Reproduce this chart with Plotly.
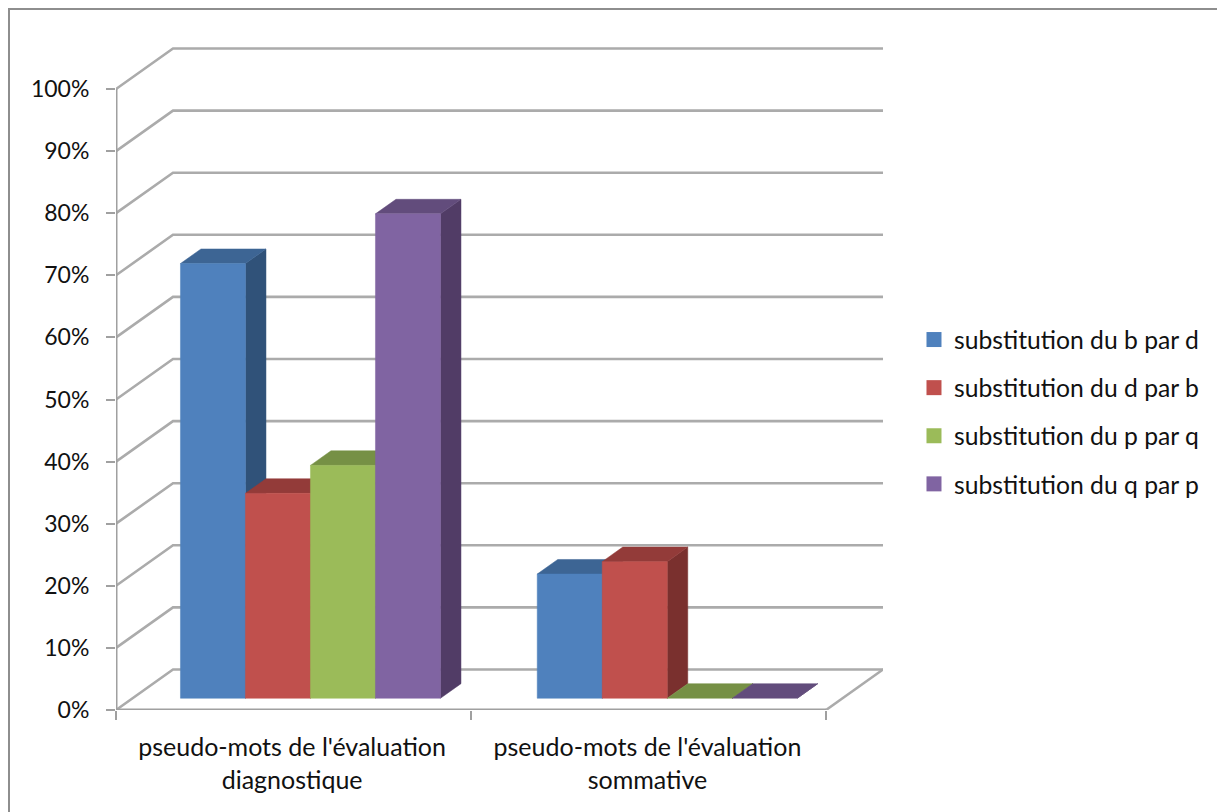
import plotly.graph_objects as go

categories = ["pseudo-mots de l'évaluation<br>diagnostique", "pseudo-mots de l'évaluation<br>sommative"]
series_names = ["substitution du b par d", "substitution du d par b",
                "substitution du p par q", "substitution du q par p"]
b_par_d = [70, 20]
d_par_b = [33, 22]
p_par_q = [37.5, 0]
q_par_p = [78, 0]
series_values = [b_par_d, d_par_b, p_par_q, q_par_p]
y_ticks = [0, 10, 20, 30, 40, 50, 60, 70, 80, 90, 100]

front_colors = ["#4F81BD", "#C0504D", "#9BBB59", "#8064A2"]
top_colors = ["#3D6594", "#933B39", "#769045", "#624C7C"]
side_colors = ["#305279", "#7A302E", "#62762F", "#513C66"]

FONT = "Lato"
GRID = "#ABABAB"
AXIS = "#A0A0A0"

PX_X = 355.0      # pixels per category
PX_Y = 6.21       # pixels per percent
DX = 57 / PX_X    # depth skew of the box, in axis units
DY = 40.5 / PX_Y
BAR_D0 = 0.29     # depth of a bar's front face (fraction of box depth)
BAR_D1 = 0.65     # depth of a bar's back face
BAR_W = 65 / PX_X
GROUP_START = [0.135, 1.14]


def proj(x, y, d):
    return x + d * DX, y + d * DY


def poly(points, color, name=None):
    xs, ys = zip(*points)
    return go.Scatter(x=list(xs) + [xs[0]], y=list(ys) + [ys[0]], mode="lines", fill="toself",
                      fillcolor=color, line=dict(color=color, width=0.5),
                      showlegend=False, hoverinfo="skip", name=name)


def seg(points, color=GRID, width=2.6):
    xs, ys = zip(*points)
    return go.Scatter(x=xs, y=ys, mode="lines", line=dict(color=color, width=width),
                      showlegend=False, hoverinfo="skip")


fig = go.Figure()
XMAX = len(categories)

# walls: gridlines
for v in y_ticks:
    fig.add_trace(seg([proj(0, v, 0), proj(0, v, 1), proj(XMAX, v, 1)]))
# floor
fig.add_trace(seg([proj(XMAX, 0, 0), proj(XMAX, 0, 1)]))
# front axes
fig.add_trace(seg([proj(0, 100, 0), proj(0, 0, 0), proj(XMAX, 0, 0)], AXIS, 3))

# bars
for g in range(len(categories)):
    for s, vals in enumerate(series_values):
        v = vals[g]
        x0 = GROUP_START[g] + s * BAR_W
        x1 = x0 + BAR_W
        fig.add_trace(poly([proj(x1, 0, BAR_D0), proj(x1, v, BAR_D0), proj(x1, v, BAR_D1), proj(x1, 0, BAR_D1)], side_colors[s]))
        fig.add_trace(poly([proj(x0, v, BAR_D0), proj(x1, v, BAR_D0), proj(x1, v, BAR_D1), proj(x0, v, BAR_D1)], top_colors[s]))
        if v > 0:
            fig.add_trace(poly([proj(x0, 0, BAR_D0), proj(x1, 0, BAR_D0), proj(x1, v, BAR_D0), proj(x0, v, BAR_D0)], front_colors[s]))

# legend
for s, name in enumerate(series_names):
    fig.add_trace(go.Scatter(x=[None], y=[None], mode="markers", name=name, legendgroup=name,
                             marker=dict(symbol="square", size=15, color=front_colors[s])))

fig.update_layout(
    width=1217, height=804,
    margin=dict(l=108, r=342, t=39, b=102),
    paper_bgcolor="white", plot_bgcolor="white",
    font=dict(family=FONT, size=23, color="#111111"),
    xaxis=dict(range=[0, (883 - 116) / PX_X], showgrid=False, zeroline=False, showline=False,
               tickmode="array", tickvals=[0.496, 1.497], ticktext=categories, ticks="", ticklabelstandoff=20,
               tickangle=0, tickfont=dict(family=FONT, size=25, color="#111111"),
               minor=dict(tickmode="array", tickvals=[0, 1, 2], ticks="outside", ticklen=9, tickcolor=AXIS, tickwidth=2)),
    yaxis=dict(range=[0, (710 - 47) / PX_Y], showgrid=False, zeroline=False, showline=False,
               tickmode="array", tickvals=y_ticks, ticktext=[f"{t}%" for t in y_ticks], ticks="outside",
               ticklen=9, tickcolor=AXIS, tickwidth=2, ticklabelstandoff=12),
    legend=dict(x=1.0404, xanchor="left", y=0.4495, yanchor="middle", tracegroupgap=13, itemwidth=30,
                font=dict(family=FONT, size=24.7), bgcolor="rgba(0,0,0,0)"),
    shapes=[dict(type="rect", xref="paper", yref="paper", x0=(1 - 108) / 767, x1=2.0,
                 y0=-0.5, y1=(702 - 1) / 663, line=dict(color="#8E8E8E", width=2),
                 layer="below")],
    showlegend=True,
)
fig.write_html("out.html")
